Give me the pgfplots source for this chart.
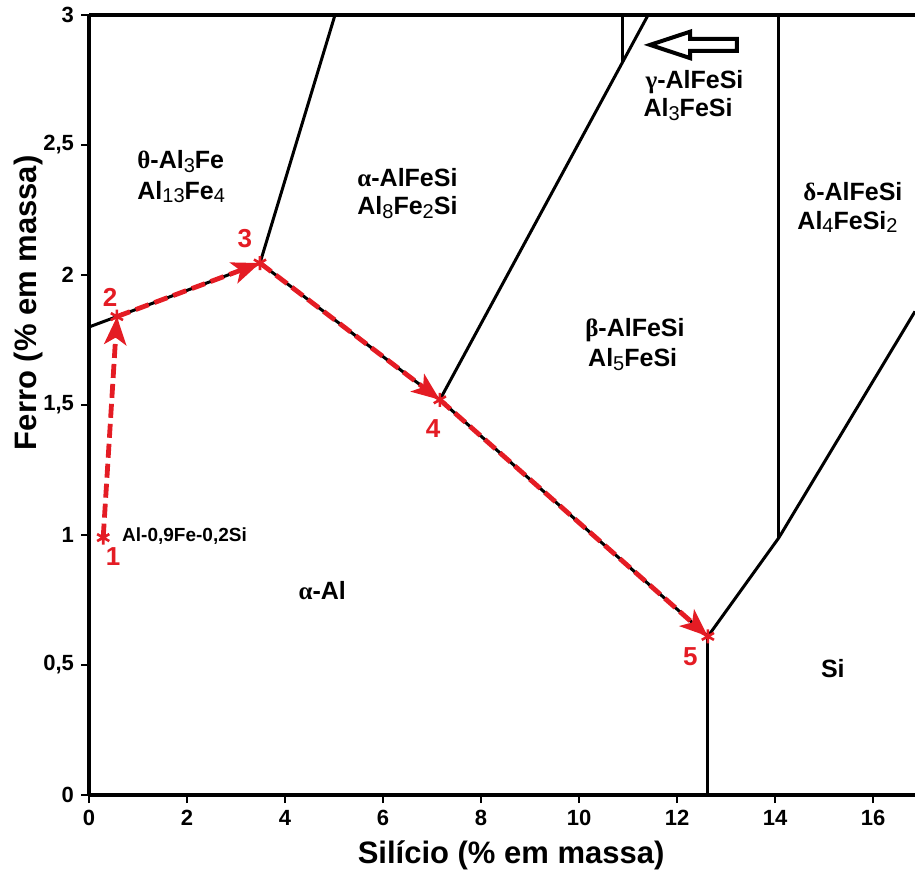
\documentclass[border=0pt]{standalone}
\usepackage{pgfplots}
\pgfplotsset{compat=1.18}
\usepackage{fontspec}
\setmainfont{Liberation Sans}
\newfontfamily\greekfont{Liberation Serif}
\usetikzlibrary{arrows.meta}
\definecolor{pred}{RGB}{228,28,36}
\newcommand\sub[1]{\raisebox{-0.3ex}{\fontsize{10pt}{10pt}\selectfont\mdseries #1}}
\newcommand\gk[1]{{\greekfont\bfseries #1}}
\tikzset{
 pdash/.style={pred, line width=2.4pt, dash pattern=on 7pt off 3pt, -{Stealth[length=14pt,width=11pt,inset=3.5pt]}},
 lbl/.style={font=\fontsize{12.5pt}{12.5pt}\selectfont\bfseries, anchor=west, inner sep=0pt},
 num/.style={font=\fontsize{13pt}{13pt}\selectfont\bfseries, text=pred, inner sep=0pt},
}
\begin{document}
\begin{tikzpicture}
\begin{axis}[
 scale only axis, width=413pt, height=390pt,
 xmin=0, xmax=16.857, ymin=0, ymax=3,
 axis x line*=bottom, axis y line*=left,
 axis line style={line width=1.7pt,-},
 clip=false,
 xtick={0,2,...,16}, xticklabels={0,2,4,6,8,10,12,14,16},
 ytick={0,0.5,1,1.5,2,2.5,3}, yticklabels={0,{0,5},1,{1,5},2,{2,5},3},
 tick align=outside, major tick length=4pt,
 tick style={line width=1.4pt,black},
 tick label style={font=\fontsize{11pt}{11pt}\selectfont\bfseries},
 xlabel={Silício (\% em massa)}, ylabel={Ferro (\% em massa)},
 label style={font=\fontsize{15.5pt}{15.5pt}\selectfont\bfseries},
 xlabel style={at={(axis description cs:0.511,-0.0769)},anchor=center},
 ylabel style={at={(axis description cs:-0.0738,0.631)},anchor=center},
]
% top border
\addplot[line width=1.7pt] coordinates {(0,3) (16.857,3)};
% phase boundaries
\addplot[line width=1.5pt] coordinates {(0,1.80) (0.57,1.84) (3.49,2.046) (7.16,1.52) (12.63,0.61) (14.08,0.99) (16.857,1.86)};
\addplot[line width=1.5pt] coordinates {(3.49,2.046) (5.02,3)};
\addplot[line width=1.5pt] coordinates {(7.16,1.52) (11.41,3)};
\addplot[line width=1.5pt] coordinates {(10.88,2.815) (10.88,3)};
\addplot[line width=1.5pt] coordinates {(12.63,0) (12.63,0.61)};
\addplot[line width=1.5pt] coordinates {(14.08,0.99) (14.08,3)};
% hollow arrow
\addplot[line width=2pt, line join=miter, fill=white] coordinates {(11.45,2.885) (12.27,2.936) (12.27,2.908) (13.22,2.908) (13.22,2.862) (12.27,2.862) (12.27,2.834)} -- cycle;
% solidification path
\addplot[pdash] coordinates {(0.29,0.99) (0.57,1.84)};
\addplot[pdash] coordinates {(0.57,1.84) (3.49,2.046)};
\addplot[pdash] coordinates {(3.49,2.046) (7.16,1.52)};
\addplot[pdash] coordinates {(7.16,1.52) (12.63,0.61)};
\addplot[only marks, mark=asterisk, mark size=3.5pt, pred, line width=1.3pt] coordinates {(0.29,0.99) (0.57,1.84) (3.49,2.046) (7.16,1.52) (12.63,0.61)};
% labels
\node[lbl] at (axis cs:0.98,2.435) {\gk{θ}-Al\sub{3}Fe};
\node[lbl] at (axis cs:0.98,2.319) {Al\sub{13}Fe\sub{4}};
\node[lbl] at (axis cs:5.47,2.373) {\gk{α}-AlFeSi};
\node[lbl] at (axis cs:5.47,2.258) {Al\sub{8}Fe\sub{2}Si};
\node[lbl] at (axis cs:11.35,2.742) {\gk{γ}-AlFeSi};
\node[lbl] at (axis cs:11.31,2.635) {Al\sub{3}FeSi};
\node[lbl] at (axis cs:14.57,2.319) {\gk{δ}-AlFeSi};
\node[lbl] at (axis cs:14.45,2.204) {Al\sub{4}FeSi\sub{2}};
\node[lbl] at (axis cs:10.12,1.788) {\gk{β}-AlFeSi};
\node[lbl] at (axis cs:10.18,1.673) {Al\sub{5}FeSi};
\node[lbl, anchor=center] at (axis cs:4.76,0.788) {\gk{α}-Al};
\node[lbl, anchor=center] at (axis cs:15.18,0.488) {Si};
\node[font=\fontsize{9.5pt}{9.5pt}\selectfont\bfseries, anchor=west, inner sep=0pt] at (axis cs:0.67,0.996) {Al-0,9Fe-0,2Si};
\node[num] at (axis cs:0.49,0.919) {1};
\node[num] at (axis cs:0.43,1.915) {2};
\node[num] at (axis cs:3.18,2.142) {3};
\node[num] at (axis cs:7.02,1.41) {4};
\node[num] at (axis cs:12.27,0.531) {5};
\end{axis}
\pgfresetboundingbox
\path[use as bounding box] (-44.5pt,-38.5pt) rectangle (413pt,397.5pt);
\end{tikzpicture}
\end{document}
